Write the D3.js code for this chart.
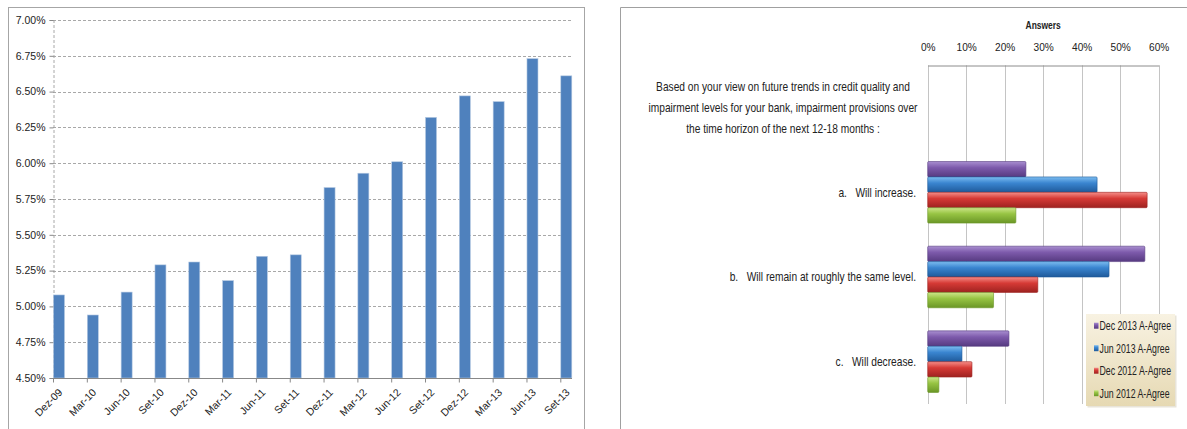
<!DOCTYPE html>
<html>
<head>
<meta charset="utf-8">
<script src="https://cdn.jsdelivr.net/npm/d3@7"></script>
<style>
  body { margin: 0; background: #fff; }
  svg { display: block; }
  text { font-family: "Liberation Sans", Arial, sans-serif; fill: #222; }
</style>
</head>
<body>
<svg id="chart" width="1187" height="429"></svg>
<script>
// left chart data
const quarters = ["Dez-09","Mar-10","Jun-10","Set-10","Dez-10","Mar-11","Jun-11","Set-11",
                  "Dez-11","Mar-12","Jun-12","Set-12","Dez-12","Mar-13","Jun-13","Set-13"];
const rates = [5.08, 4.94, 5.10, 5.29, 5.31, 5.18, 5.35, 5.36,
               5.83, 5.93, 6.01, 6.32, 6.47, 6.43, 6.73, 6.61];
const rateTicks = [4.50, 4.75, 5.00, 5.25, 5.50, 5.75, 6.00, 6.25, 6.50, 6.75, 7.00];

// right chart data
const questionLines = ["Based on your view on future trends in credit quality and",
                       "impairment levels for your bank, impairment provisions over",
                       "the time horizon of the next 12-18 months :"];
const answers = ["a.   Will increase.", "b.   Will remain at roughly the same level.", "c.   Will decrease."];
const seriesNames = ["Dec 2013 A-Agree", "Jun 2013 A-Agree", "Dec 2012 A-Agree", "Jun 2012 A-Agree"];
const dec2013 = [25.5, 56.4, 21.1];
const jun2013 = [44.0, 47.1, 8.9];
const dec2012 = [57.0, 28.6, 11.5];
const jun2012 = [22.9, 17.1, 2.9];
const answerTicks = [0, 10, 20, 30, 40, 50, 60];

const svg = d3.select("#chart");

// ---------- left chart ----------
svg.append("rect")
    .attr("x", 8.5).attr("y", 7.5)
    .attr("width", 576).attr("height", 430)
    .attr("fill", "none").attr("stroke", "#a6a6a6");

const plotL = {left: 53, right: 572, top: 20, bottom: 378};

const y = d3.scaleLinear().domain([4.5, 7]).range([plotL.bottom, plotL.top]);
const x = d3.scalePoint().domain(quarters).range([plotL.left, 560.3]);
const barW = 11;

const left = svg.append("g");

// dashed gridlines
left.append("g")
    .selectAll("line").data(rateTicks.slice(1)).enter().append("line")
    .attr("x1", plotL.left).attr("x2", plotL.right)
    .attr("y1", d => Math.round(y(d)) + 0.5).attr("y2", d => Math.round(y(d)) + 0.5)
    .attr("stroke", "#a8a8a8")
    .attr("stroke-dasharray", "3,2");

// y axis
const yAxis = left.append("g")
    .attr("transform", "translate(" + (plotL.left + 0.5) + ",0)")
    .call(d3.axisLeft(y).tickValues(rateTicks).tickSize(4).tickPadding(4)
        .tickFormat(d => d3.format(".2f")(d) + "%"));
yAxis.select(".domain").attr("stroke", "#a8a8a8").attr("stroke-dasharray", "3,2");
yAxis.selectAll(".tick line").attr("stroke", "#888");
yAxis.selectAll(".tick text")
    .style("font-family", "'Liberation Sans', Arial, sans-serif")
    .style("font-size", "10.5px").attr("fill", "#222");

// bars
left.append("g")
    .selectAll("rect").data(rates).enter().append("rect")
    .attr("x", (d, i) => x(quarters[i]) + 0.5)
    .attr("y", d => y(d))
    .attr("width", barW)
    .attr("height", d => plotL.bottom - y(d))
    .attr("fill", "#4f81bd")
    .attr("stroke", "#b5c9e2")
    .attr("stroke-width", 0.6);

// x axis
const xAxis = left.append("g")
    .attr("transform", "translate(0," + (plotL.bottom + 0.5) + ")")
    .call(d3.axisBottom(x).tickSize(4).tickSizeOuter(0));
xAxis.select(".domain").remove();
xAxis.append("line")
    .attr("x1", plotL.left).attr("x2", plotL.right)
    .attr("stroke", "#888");
xAxis.selectAll(".tick line").attr("stroke", "#888");
xAxis.selectAll(".tick text")
    .attr("text-anchor", "end")
    .attr("y", 0).attr("dy", "0.35em")
    .attr("transform", "translate(7,12) rotate(-45)")
    .style("font-family", "'Liberation Sans', Arial, sans-serif")
    .style("font-size", "10.5px").attr("fill", "#222");

// ---------- right chart ----------
svg.append("path")
    .attr("d", "M620.5,437V7.5H1187")
    .attr("fill", "none").attr("stroke", "#a0a0a0");

const plotR = {left: 927.7, right: 1158.7, top: 65.3, bottom: 404};
const xr = d3.scaleLinear().domain([0, 60]).range([plotR.left, plotR.right]);
const rows = ["question"].concat(answers);
const yr = d3.scaleBand().domain(rows).range([plotR.top, plotR.bottom]);
const yInner = d3.scaleBand().domain(seriesNames).range([0, yr.bandwidth()]).paddingOuter(0.75);

const seriesColors = {
    "Dec 2013 A-Agree": ["#a98fd0", "#7d5aab", "#563a80"],
    "Jun 2013 A-Agree": ["#7dbdf0", "#3a85d0", "#1f5a9a"],
    "Dec 2012 A-Agree": ["#f58e89", "#d63a36", "#9e2220"],
    "Jun 2012 A-Agree": ["#cde68a", "#97c443", "#6a9626"]
};
const seriesValues = [dec2013, jun2013, dec2012, jun2012];

const defs = svg.append("defs");
seriesNames.forEach((s, i) => {
    const g = defs.append("linearGradient")
        .attr("id", "grad" + i)
        .attr("x1", 0).attr("y1", 0).attr("x2", 0).attr("y2", 1);
    g.append("stop").attr("offset", "0%").attr("stop-color", seriesColors[s][0]);
    g.append("stop").attr("offset", "40%").attr("stop-color", seriesColors[s][1]);
    g.append("stop").attr("offset", "100%").attr("stop-color", seriesColors[s][2]);
});
const lg = defs.append("linearGradient")
    .attr("id", "legendGrad")
    .attr("x1", 0).attr("y1", 0).attr("x2", 0).attr("y2", 1);
lg.append("stop").attr("offset", "0%").attr("stop-color", "#f8f2e2");
lg.append("stop").attr("offset", "100%").attr("stop-color", "#e6d9b3");

const right = svg.append("g");

// vertical gridlines
right.append("g")
    .selectAll("line").data(answerTicks).enter().append("line")
    .attr("x1", d => Math.round(xr(d)) + 0.5).attr("x2", d => Math.round(xr(d)) + 0.5)
    .attr("y1", plotR.top).attr("y2", plotR.bottom)
    .attr("stroke", "#c4c4c4");

// top axis
const topAxis = right.append("g")
    .attr("transform", "translate(0," + (Math.round(plotR.top) + 0.5) + ")")
    .call(d3.axisTop(xr).tickValues(answerTicks).tickSize(0).tickSizeOuter(0).tickPadding(15)
        .tickFormat(d => d + "%"));
topAxis.select(".domain").attr("stroke", "#8c8c8c");
topAxis.selectAll(".tick text")
    .style("font-family", "'Liberation Sans', Arial, sans-serif")
    .style("font-size", "11.5px").attr("fill", "#1a1a1a")
    .attr("transform", "scale(0.88,1)");

right.append("text")
    .attr("transform", "translate(" + ((plotR.left + plotR.right) / 2) + ",29) scale(0.77,1)")
    .attr("text-anchor", "middle")
    .style("font-size", "11px").style("font-weight", "bold")
    .attr("fill", "#1a1a1a")
    .text("Answers");

// question (first category label, wrapped)
const qc = yr("question") + yr.bandwidth() / 2;
right.append("g")
    .selectAll("text").data(questionLines).enter().append("text")
    .attr("transform", (d, i) => "translate(783," + (qc + (i - 1) * 20.8) + ") scale(0.85,1)")
    .attr("text-anchor", "middle")
    .attr("dy", "0.35em")
    .style("font-size", "12px")
    .attr("fill", "#1a1a1a")
    .text(d => d);

// answer labels
right.append("g")
    .selectAll("text").data(answers).enter().append("text")
    .attr("transform", d => "translate(916," + (yr(d) + yr.bandwidth() / 2) + ") scale(0.85,1)")
    .attr("text-anchor", "end")
    .attr("dy", "0.35em")
    .style("font-size", "12px")
    .style("white-space", "pre")
    .attr("fill", "#1a1a1a")
    .text(d => d);

// bars
seriesNames.forEach((s, si) => {
    right.append("g")
        .selectAll("rect").data(seriesValues[si]).enter().append("rect")
        .attr("x", plotR.left)
        .attr("y", (d, i) => yr(answers[i]) + yInner(s))
        .attr("width", d => xr(d) - plotR.left)
        .attr("height", yInner.bandwidth())
        .attr("rx", 1)
        .attr("fill", "url(#grad" + si + ")")
        .attr("stroke", seriesColors[s][2])
        .attr("stroke-width", 0.6);
});

// legend
const legend = right.append("g").attr("transform", "translate(1086,314)");
legend.append("rect")
    .attr("x", 1.5).attr("y", 1.5)
    .attr("width", 89).attr("height", 92)
    .attr("fill", "#d9d2bf").attr("opacity", 0.6);
legend.append("rect")
    .attr("width", 89).attr("height", 92)
    .attr("fill", "url(#legendGrad)");
const legendItem = legend.selectAll("g.item").data(seriesNames).enter().append("g")
    .attr("class", "item")
    .attr("transform", (d, i) => "translate(8," + (11.7 + i * 22.5) + ")");
legendItem.append("rect")
    .attr("x", 0).attr("y", -3)
    .attr("width", 4.5).attr("height", 6)
    .attr("fill", (d, i) => "url(#grad" + i + ")");
legendItem.append("text")
    .attr("transform", "translate(5.5,0) scale(0.73,1)")
    .attr("dy", "0.37em")
    .style("font-size", "12px")
    .attr("fill", "#1a1a1a")
    .text(d => d);
</script>
</body>
</html>
